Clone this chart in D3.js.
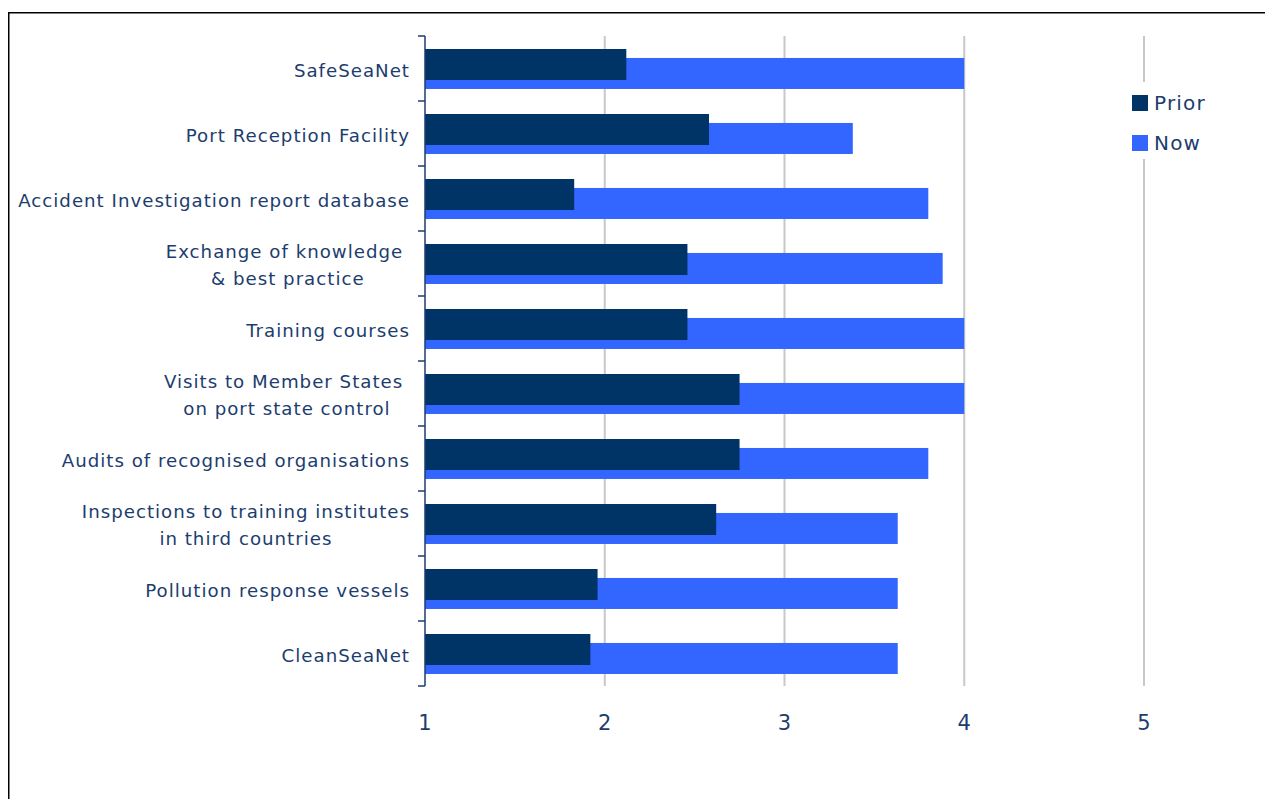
<!DOCTYPE html>
<html>
<head>
<meta charset="utf-8">
<script src="https://cdn.jsdelivr.net/npm/d3@7"></script>
<style>
  html, body { margin: 0; padding: 0; background: #fff; }
  svg { display: block; }
  text { font-family: "DejaVu Sans", Verdana, sans-serif; fill: #1c3d6e; }
</style>
</head>
<body>
<script>
// Ratings before and after, per activity (scale 1–5)
const categories = [
  "SafeSeaNet",
  "Port Reception Facility",
  "Accident Investigation report database",
  "Exchange of knowledge \n& best practice",
  "Training courses",
  "Visits to Member States \non port state control",
  "Audits of recognised organisations",
  "Inspections to training institutes\nin third countries",
  "Pollution response vessels",
  "CleanSeaNet"
];
const priorValues = [2.12, 2.58, 1.83, 2.46, 2.46, 2.75, 2.75, 2.62, 1.96, 1.92];
const nowValues   = [4.00, 3.38, 3.80, 3.88, 4.00, 4.00, 3.80, 3.63, 3.63, 3.63];
const xTicks = [1, 2, 3, 4, 5];
const seriesNames = ["Prior", "Now"];
const seriesColors = ["#003366", "#3366ff"];

const W = 1265, H = 799;
const svg = d3.select("body").append("svg").attr("width", W).attr("height", H);

// outer frame (runs off the right and bottom edges)
svg.append("rect")
  .attr("x", 8.75).attr("y", 12.75)
  .attr("width", 1400).attr("height", 1000)
  .attr("fill", "none").attr("stroke", "#000").attr("stroke-width", 1.5);

const plot = { left: 425, right: 1144, top: 36, bottom: 686 };

const x = d3.scaleLinear().domain([1, 5]).range([plot.left, plot.right]);
const y = d3.scaleBand().domain(categories).range([plot.top, plot.bottom]).paddingInner(0).paddingOuter(0);
const bw = y.bandwidth();
const barH = bw * 0.477;

// vertical gridlines
svg.append("g").selectAll("line")
  .data(xTicks.filter(t => t > 1))
  .join("line")
  .attr("x1", d => x(d)).attr("x2", d => x(d))
  .attr("y1", plot.top).attr("y2", plot.bottom)
  .attr("stroke", "#c8c8c8").attr("stroke-width", 2);

// "Now" bars sit behind, shifted down
svg.append("g").selectAll("rect")
  .data(categories.map((c, i) => ({ c, v: nowValues[i] })))
  .join("rect")
  .attr("x", x(1))
  .attr("y", d => y(d.c) + bw * 0.338)
  .attr("width", d => x(d.v) - x(1))
  .attr("height", barH)
  .attr("fill", seriesColors[1]);

// "Prior" bars on top
svg.append("g").selectAll("rect")
  .data(categories.map((c, i) => ({ c, v: priorValues[i] })))
  .join("rect")
  .attr("x", x(1))
  .attr("y", d => y(d.c) + bw * 0.2)
  .attr("width", d => x(d.v) - x(1))
  .attr("height", barH)
  .attr("fill", seriesColors[0]);

// category axis line with outside ticks at band boundaries
const axisG = svg.append("g");
axisG.append("line")
  .attr("x1", plot.left).attr("x2", plot.left)
  .attr("y1", plot.top).attr("y2", plot.bottom)
  .attr("stroke", "#1c3d6e").attr("stroke-width", 1.5);
const boundaries = categories.map(c => y(c)).concat([plot.bottom]);
axisG.selectAll("line.tick")
  .data(boundaries)
  .join("line")
  .attr("class", "tick")
  .attr("x1", plot.left - 7).attr("x2", plot.left)
  .attr("y1", d => d).attr("y2", d => d)
  .attr("stroke", "#1c3d6e").attr("stroke-width", 1.5);

// category labels, multi-line labels centred within a right-aligned block
const labelRight = 410;
const lineGap = 26.3;
const labelG = svg.append("g").attr("font-size", 18.2).attr("letter-spacing", 1.0);
categories.forEach(c => {
  const lines = c.split("\n");
  const cy = y(c) + bw / 2 + 1.5;
  if (lines.length === 1) {
    labelG.append("text")
      .attr("x", labelRight).attr("y", cy)
      .attr("text-anchor", "end").attr("dy", "0.36em")
      .style("white-space", "pre")
      .text(lines[0]);
  } else {
    const nodes = lines.map((l, k) => labelG.append("text")
      .attr("y", cy + (k - (lines.length - 1) / 2) * lineGap)
      .attr("dy", "0.36em")
      .attr("text-anchor", "middle")
      .style("white-space", "pre")
      .text(l));
    const maxW = d3.max(nodes, n => n.node().getComputedTextLength());
    nodes.forEach(n => n.attr("x", labelRight - maxW / 2));
  }
});

// value axis labels
svg.append("g").attr("font-size", 21).selectAll("text")
  .data(xTicks)
  .join("text")
  .attr("x", d => x(d)).attr("y", 722)
  .attr("dy", "0.36em")
  .attr("text-anchor", "middle")
  .text(d => d);

// legend
const legend = svg.append("g");
legend.append("rect")
  .attr("x", 1124).attr("y", 82).attr("width", 100).attr("height", 77)
  .attr("fill", "#fff");
seriesNames.forEach((name, i) => {
  const ly = 103 + i * 40;
  legend.append("rect")
    .attr("x", 1132).attr("y", ly - 8).attr("width", 16).attr("height", 16)
    .attr("fill", seriesColors[i]);
  legend.append("text")
    .attr("x", 1154).attr("y", ly).attr("dy", "0.36em")
    .attr("font-size", 20).attr("letter-spacing", 1.2)
    .text(name);
});
</script>
</body>
</html>
